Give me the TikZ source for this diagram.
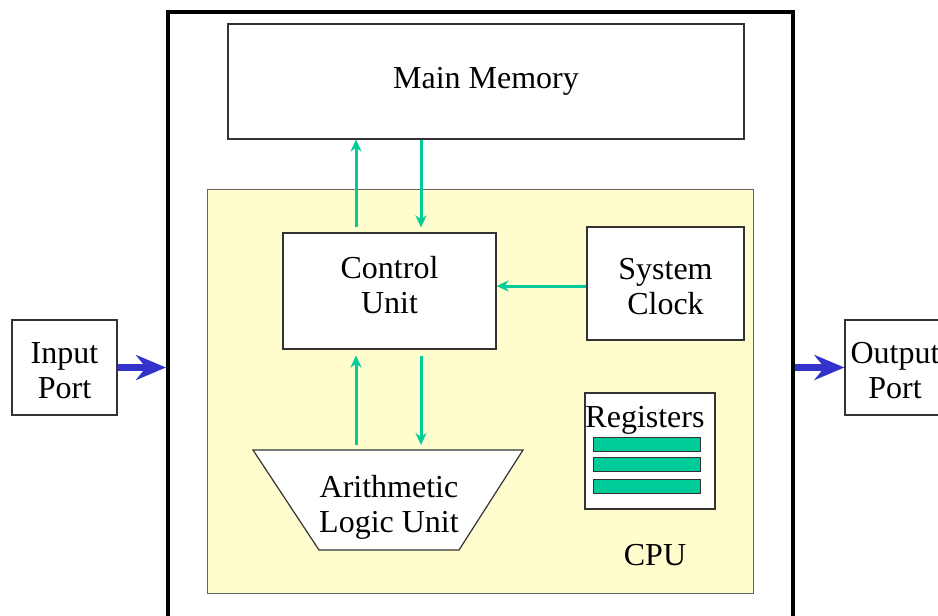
\documentclass[tikz,border=0pt]{standalone}
\usepackage{fontspec}
\setmainfont{Liberation Serif}
\usetikzlibrary{arrows.meta}
\definecolor{cpuyellow}{HTML}{FFFDCD}
\definecolor{busgreen}{HTML}{00CC99}
\definecolor{portblue}{HTML}{3333CC}
\tikzset{
  box/.style={draw=black!80,line width=1.2pt,fill=white,align=center,inner sep=0pt},
  flow/.style={busgreen,line width=3pt,-{Stealth[length=12pt,width=11pt]}},
  portarrow/.style={portblue,line width=7pt,-{Stealth[length=30pt,width=25pt,inset=10pt]}}
}
\begin{document}
\begin{tikzpicture}[x=1pt,y=-1pt,font=\fontsize{32}{35}\selectfont]
	\useasboundingbox (0,0) rectangle (938,616);
	% outer frame
	\node[draw=black,line width=4pt,minimum width=625pt,minimum height=628pt,inner sep=0pt] (frame) at (480.5,326) {};
	\node[box,minimum width=516pt,minimum height=115pt] (mem) at (486,81.5) {Main Memory};
	% cpu area
	\node[draw=black!60,line width=1pt,fill=cpuyellow,minimum width=546pt,minimum height=404pt,inner sep=0pt] (cpu) at (480,391) {};
	\node (cpulabel) at (655,555) {CPU};
	\node[box,minimum width=213pt,minimum height=116pt] (cu) at (389.5,291) {};
	\node[align=center] (cutext) at (389.5,285) {Control\\Unit};
	\node[box,minimum width=157pt,minimum height=113pt] (clock) at (665.5,283.5) {};
	\node[align=center] (clocktext) at (665.5,286.5) {System\\Clock};
	% registers
	\node[box,minimum width=130pt,minimum height=116pt] (regs) at (650,451) {};
	\node[inner sep=0pt] (regtext) at (645,420) {Registers};
	\foreach \y/\n in {444/a,464.5/b,486.5/c}
		\node[draw=black!80,fill=busgreen,line width=1pt,minimum width=107pt,minimum height=14pt,inner sep=0pt] (reg\n) at (646.5,\y) {};
	% alu
	\draw[draw=black!80,line width=1.2pt,fill=white] (253,450) coordinate (alunw) -- (523,450) coordinate (alune) -- (459,550) -- (319,550) -- cycle;
	\node[align=center] (alu) at (389,507) {Arithmetic\\Logic Unit};
	% ports
	\node[box,minimum width=105pt,minimum height=95pt] (in) at (64.5,367.5) {};
	\node[align=center] (intext) at (64.5,370.5) {Input\\Port};
	\node[box,minimum width=100pt,minimum height=95pt] (out) at (895,367.5) {};
	\node[align=center] (outtext) at (895,370.5) {Output\\Port};
	\draw[portarrow] (in.east) -- (in.east -| frame.west);
	\draw[portarrow] (frame.east |- out.west) -- (out.west);
	% green buses
	\coordinate (cuup) at ([xshift=-33.5pt]cu.north);
	\coordinate (cudown) at ([xshift=31.5pt]cu.north);
	\coordinate (aluup) at ([xshift=-33.5pt]cu.south);
	\coordinate (aludown) at ([xshift=31.5pt]cu.south);
	\coordinate (clk) at ([yshift=-2.5pt]clock.west);
	\draw[flow,shorten <=5pt] (cuup) -- (cuup |- mem.south);
	\draw[flow,shorten >=5pt] (cudown |- mem.south) -- (cudown);
	\draw[flow,shorten <=5pt,shorten >=6pt] (aluup |- alunw) -- (aluup);
	\draw[flow,shorten <=6pt,shorten >=5pt] (aludown) -- (aludown |- alune);
	\draw[flow] (clk) -- (clk -| cu.east);
\end{tikzpicture}
\end{document}
